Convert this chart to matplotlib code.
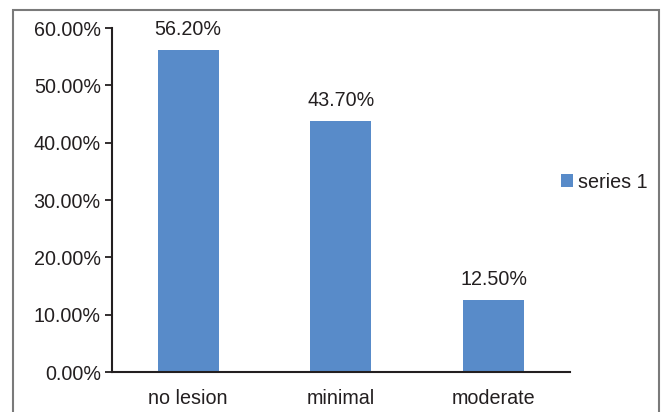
import matplotlib.pyplot as plt
from matplotlib.patches import Rectangle
from matplotlib.ticker import FuncFormatter

categories = ['no lesion', 'minimal', 'moderate']
values = [56.2, 43.7, 12.5]
series_name = 'series 1'
yticks = [0, 10, 20, 30, 40, 50, 60]

plt.rcParams['font.family'] = ['Liberation Sans', 'DejaVu Sans']
fs = 14.2

fig = plt.figure(figsize=(6.62, 4.12), dpi=100)
ax = fig.add_axes([0.169, 0.097, 0.692, 0.835])

x = range(len(categories))
bars = ax.bar(x, values, width=0.4, color='#588BC9', label=series_name, zorder=2)

for b, v in zip(bars, values):
    ax.annotate('%.2f%%' % v, (b.get_x() + b.get_width() / 2, v),
                xytext=(0, 8), textcoords='offset points',
                ha='center', va='bottom', fontsize=fs, color='#231f20')

ax.set_xlim(-0.5, 2.5)
ax.set_ylim(0, 60)
ax.set_yticks(yticks)
ax.yaxis.set_major_formatter(FuncFormatter(lambda v, p: '%.2f%%' % v))
ax.set_xticks(list(x))
ax.set_xticklabels(categories)
ax.tick_params(axis='y', length=5, width=1.3, color='#231f20', labelsize=fs,
               labelcolor='#231f20', pad=3)
ax.tick_params(axis='x', length=0, labelsize=fs, labelcolor='#231f20', pad=12)

for s in ['top', 'right']:
    ax.spines[s].set_visible(False)
for s in ['left', 'bottom']:
    ax.spines[s].set_linewidth(1.5)
    ax.spines[s].set_color('#231f20')

ax.legend(loc='center left', bbox_to_anchor=(543 / 662, 1 - 182 / 412),
          bbox_transform=fig.transFigure, frameon=False, fontsize=fs,
          handlelength=0.6, handleheight=0.6, handletextpad=0.3,
          labelcolor='#231f20')

# outer frame around the chart area
fig.patches.append(Rectangle((13 / 662, -0.05), 646 / 662, 1.05 - 10 / 412,
                             transform=fig.transFigure, fill=False,
                             edgecolor='#7a7a7a', linewidth=1.5))

fig.savefig('out.png', dpi=100)
